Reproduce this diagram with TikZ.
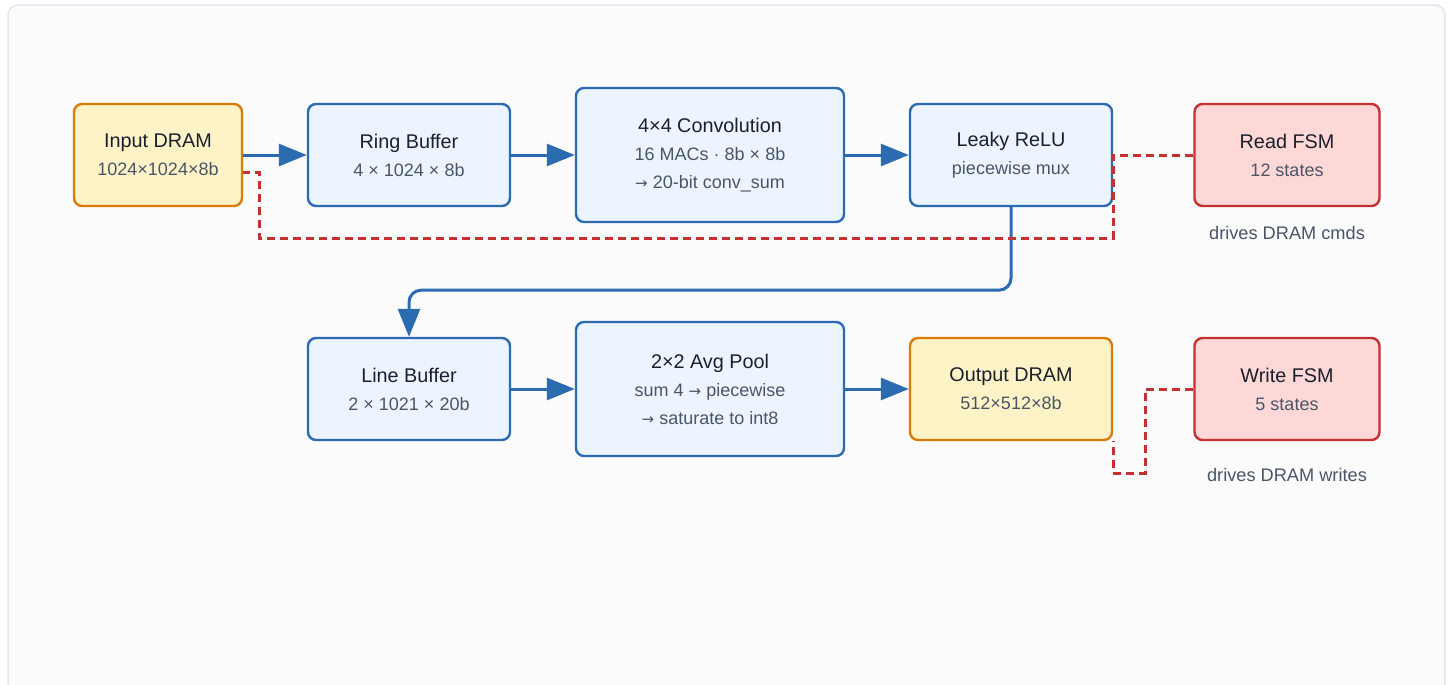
\documentclass[tikz,border=0pt]{standalone}
\usepackage{fontspec}
\setmainfont{Liberation Sans}
\newfontfamily\arrfont{DejaVu Sans}
\usepackage{xcolor}
\usetikzlibrary{arrows.meta,positioning}
\definecolor{flowblue}{HTML}{2B6CB0}
\definecolor{boxblue}{HTML}{EBF4FF}
\definecolor{dramline}{HTML}{DB7B0C}
\definecolor{dramfill}{HTML}{FEF3C7}
\definecolor{fsmline}{HTML}{C53030}
\definecolor{fsmfill}{HTML}{FED7D7}
\definecolor{ink}{HTML}{1A202C}
\definecolor{slate}{HTML}{4A5568}
\definecolor{framebg}{HTML}{FBFBFC}
\definecolor{frameline}{HTML}{E2E8F0}
\newcommand{\ttl}[1]{{\fontsize{19.8}{28}\selectfont\color{ink}#1}}
\newcommand{\rarr}{{\arrfont\fontsize{15}{28}\selectfont →}}

\begin{document}
\begin{tikzpicture}[x=1pt,y=-1pt,
blk/.style={draw=flowblue,fill=boxblue,line width=2.4pt,rounded corners=8pt,align=center,inner sep=0pt,
  text=slate,font=\fontsize{18}{28}\selectfont,minimum width=202pt,minimum height=102pt},
wide/.style={minimum width=268pt,minimum height=134pt},
dram/.style={blk,draw=dramline,fill=dramfill},
fsm/.style={blk,draw=fsmline,fill=fsmfill,minimum width=185pt},
flow/.style={draw=flowblue,line width=3pt,-{Triangle[length=28pt,width=22pt]}},
ctrl/.style={draw=fsmline,line width=3pt,dash pattern=on 8pt off 5pt},
fsmnote/.style={text=slate,font=\fontsize{18.2}{20}\selectfont}]
\useasboundingbox(0,0)rectangle(1448,685);
\fill[white](0,0)rectangle(1448,685);
\draw[frameline,fill=framebg,line width=1.5pt,rounded corners=10pt](8,5)rectangle(1445,730);
% top row
\node[dram,minimum width=168pt](input)at(158,155){\ttl{Input DRAM}\\1024×1024×8b};
\node[blk](ring)at(409,155){\ttl{Ring Buffer}\\4 × 1024 × 8b};
\node[blk,wide](conv)at(710,155){\ttl{4×4 Convolution}\\16 MACs · 8b × 8b\\\rarr{} 20-bit conv\_sum};
\node[blk](relu)at(1011,155){\ttl{Leaky ReLU}\\piecewise mux};
\node[fsm](read)at(1287,155){\ttl{Read FSM}\\12 states};
\node[fsmnote](rnote)at(1287,233){drives DRAM cmds};
% bottom row
\node[blk](line)at(409,389){\ttl{Line Buffer}\\2 × 1021 × 20b};
\node[blk,wide](pool)at(710,389){\ttl{2×2 Avg Pool}\\sum 4 \rarr{} piecewise\\\rarr{} saturate to int8};
\node[dram](output)at(1011,389){\ttl{Output DRAM}\\512×512×8b};
\node[fsm](write)at(1287,389){\ttl{Write FSM}\\5 states};
\node[fsmnote](wnote)at(1287,475){drives DRAM writes};
% data path
\draw[flow](input)--(ring);
\draw[flow](ring)--(conv);
\draw[flow](conv)--(relu);
\draw[flow,rounded corners=12pt](relu.south)--++(0,83)-|(line.north);
\draw[flow](line)--(pool);
\draw[flow](pool)--(output);
% control
\coordinate(rd)at(259,238);
\coordinate(wr)at(1145,473);
\draw[ctrl](read.west)--(relu.east|-read.west)|-(rd)|-([yshift=-17pt]input.east);
\draw[ctrl](write.west)-|(wr)-|(output.south east);
\end{tikzpicture}
\end{document}
